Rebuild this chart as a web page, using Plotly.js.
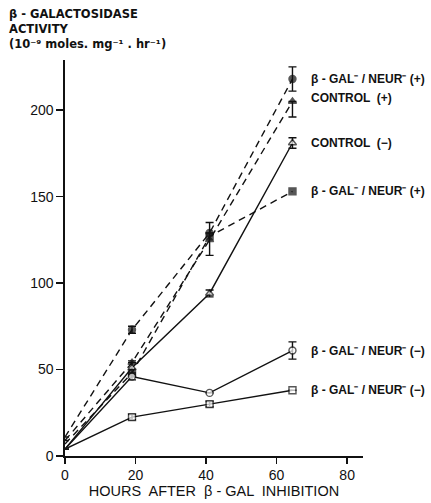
<!DOCTYPE html>
<html>
<head>
<meta charset="utf-8">
<script src="https://cdn.plot.ly/plotly-3.0.1.min.js"></script>
<style>html,body{margin:0;padding:0;background:#fff}#chart{width:431px;height:503px}</style>
</head>
<body>
<div id="chart"></div>
<script>
// Data
var hours = [0, 19, 41, 64.5];
var galNeurPlusA = [11, 73, 129, 218];      // half-filled circle, dashed
var galNeurPlusAErr = [0, 2, 0, 7];
var controlPlus = [9, 54, 125, 205];         // filled triangle, dashed
var controlPlusErrUp = [0, 0, 10, 0];
var controlPlusErrDown = [0, 0, 9, 9];
var galNeurPlusB = [7, 48, 127, 153];        // filled square, dashed
var controlMinus = [4, 51, 94, 181];         // open triangle, solid
var controlMinusErr = [0, 4, 2, 3];
var galNeurMinusA = [4, 46, 36.5, 61];       // open circle, solid
var galNeurMinusAErr = [0, 2, 0, 5];
var galNeurMinusB = [4, 22.5, 30, 38];       // open square, solid
var galNeurMinusBErr = [0, 1.5, 1.5, 0];

var xTicks = [0, 20, 40, 60, 80];
var yTicks = [0, 50, 100, 150, 200];

var labels = [
  {text: "β - GAL⁻ / NEUR⁻ (+)", y: 218},
  {text: "CONTROL  (+)", y: 207},
  {text: "CONTROL  (−)", y: 181},
  {text: "β - GAL⁻ / NEUR⁻ (+)", y: 153},
  {text: "β - GAL⁻ / NEUR⁻ (−)", y: 61},
  {text: "β - GAL⁻ / NEUR⁻ (−)", y: 38}
];

var titleLines = ["β - GALACTOSIDASE", "ACTIVITY", "(10⁻⁹ moles. mg⁻¹ . hr⁻¹)"];

var ink = "#111";
var FONT = "Liberation Sans, Arial, sans-serif";
var msz = [0, 7, 7, 7];

function tr(y, sym, fill, dash, err) {
  var t = {
    x: hours, y: y, type: "scatter", mode: "lines+markers",
    line: {color: ink, width: 1.4, dash: dash},
    marker: {symbol: sym, size: msz, color: fill, line: {color: ink, width: 1.4}},
    showlegend: false, cliponaxis: false, hoverinfo: "skip"
  };
  if (err) t.error_y = Object.assign({type: "data", visible: true, color: ink, thickness: 1.4, width: 4}, err);
  return t;
}

var data = [
  tr(galNeurPlusA, "circle", ink, "7px,5px", {array: galNeurPlusAErr}),
  tr(controlPlus, "triangle-up", ink, "7px,5px", {symmetric: false, array: controlPlusErrUp, arrayminus: controlPlusErrDown}),
  tr(galNeurPlusB, "square", ink, "7px,5px", null),
  tr(controlMinus, "triangle-up", "#fff", "solid", {array: controlMinusErr}),
  tr(galNeurMinusA, "circle", "#fff", "solid", {array: galNeurMinusAErr}),
  tr(galNeurMinusB, "square", "#fff", "solid", {array: galNeurMinusBErr})
];

var ann = labels.map(function (l) {
  return {x: 69.2, y: l.y, xref: "x", yref: "y", text: "<b>" + l.text + "</b>", showarrow: false,
          xanchor: "left", yanchor: "middle",
          font: {family: FONT, size: 12, color: ink}};
});
ann.push({
  x: -0.193, y: 1.0 + 55 / 396, xref: "paper", yref: "paper",
  xanchor: "left", yanchor: "top", align: "left", showarrow: false,
  text: "<b>" + titleLines.join("<br>") + "</b>",
  font: {family: "DejaVu Sans, sans-serif", size: 11.5, color: ink}
});

var layout = {
  width: 431, height: 503,
  margin: {l: 65, r: 68, t: 60, b: 47},
  paper_bgcolor: "#fff", plot_bgcolor: "#fff",
  xaxis: {
    range: [0, 84.5], tickvals: xTicks, ticktext: xTicks.map(String),
    ticks: "outside", ticklen: 6, tickwidth: 1.4, tickcolor: ink,
    showline: true, linecolor: ink, linewidth: 1.6, showgrid: false, zeroline: false,
    tickfont: {family: FONT, size: 14, color: ink},
    title: {text: "HOURS  AFTER  β - GAL  INHIBITION", standoff: 2,
            font: {family: FONT, size: 14.5, color: ink}}
  },
  yaxis: {
    range: [0, 229], tickvals: yTicks, ticktext: yTicks.map(String),
    ticks: "outside", ticklen: 7, tickwidth: 1.4, tickcolor: ink,
    showline: true, linecolor: ink, linewidth: 1.6, showgrid: false, zeroline: false,
    tickfont: {family: FONT, size: 14, color: ink}
  },
  annotations: ann
};

Plotly.newPlot("chart", data, layout, {staticPlot: true, displayModeBar: false});
</script>
</body>
</html>
